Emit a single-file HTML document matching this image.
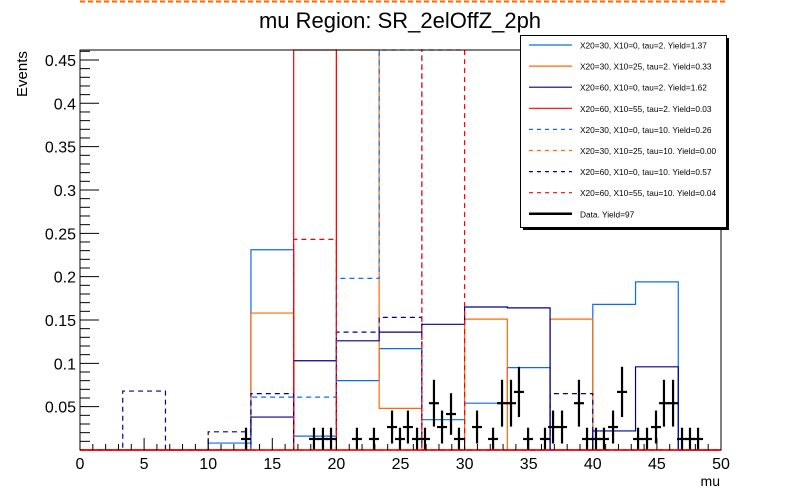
<!DOCTYPE html>
<html><head><meta charset="utf-8"><style>
html,body{margin:0;padding:0;background:#fff;}
svg{display:block;font-family:"Liberation Sans",sans-serif;}
</style></head><body>
<svg id="chart" width="800" height="500" viewBox="0 0 800 500">
<line x1="80" y1="1.5" x2="726" y2="1.5" stroke="#ff6600" stroke-width="2" stroke-dasharray="5,3"/>
<text x="400" y="28" font-size="22" text-anchor="middle">mu Region: SR_2elOffZ_2ph</text>
<text transform="translate(27,97) rotate(-90)" font-size="15">Events</text>
<text x="720" y="486" font-size="14" text-anchor="end">mu</text>
<g id="hists"></g>
<g id="datag"></g>
<g id="axes"></g>
<g id="legend"></g>
</svg>
<script>
const binEdgesN = 15;
const xMin = 0, xMax = 50, yMax = 0.4615;
const azureSolid  = [0,0,0,0.008,0.231,0.016,0.080,0.117,0.035,0.054,0.095,0,0.168,0.194,0];
const orangeSolid = [0,0,0,0,0.158,0,1.0,0.048,0,0.151,0,0.151,0,0,0];
const navySolid   = [0,0,0,0,0.038,0.103,0.126,0.136,0.145,0.165,0.164,0,0.022,0.096,0];
const redSolid    = [0,0,0,0,0,1.0,0,0,0,0,0,0,0,0,0];
const azureDash   = [0,0,0,0,0.061,0.061,0.198,1.0,0,0,0,0,0,0,0];
const orangeDash  = [0,0,0,0,0,0,0,0,0,0,0,0,0,0,0];
const navyDash    = [0,0.068,0,0.021,0.065,0,0.136,0.153,0,0,0,0.065,0,0,0];
const redDash     = [0,0,0,0,0,0.243,0,0,1.0,0,0,0,0,0,0];
const dataX = [12.95,18.25,18.95,19.58,21.6,22.93,24.34,24.96,25.58,26.29,26.91,27.61,28.24,28.94,29.56,30.97,32.22,32.92,33.62,34.24,34.95,36.27,36.9,37.6,38.92,39.55,40.25,40.87,41.58,42.28,43.53,44.23,44.93,45.55,46.26,46.96,47.58,48.21];
const dataY = [0.0127,0.0127,0.0127,0.0127,0.0127,0.0127,0.0265,0.0127,0.0265,0.0127,0.0127,0.054,0.0265,0.0415,0.0127,0.0265,0.0127,0.054,0.054,0.067,0.0127,0.0127,0.0265,0.0265,0.054,0.0127,0.0127,0.0127,0.0265,0.067,0.0127,0.0127,0.0265,0.054,0.054,0.0127,0.0127,0.0127];
const dataErr = [0.013,0.013,0.013,0.013,0.013,0.013,0.019,0.013,0.019,0.013,0.013,0.027,0.019,0.024,0.013,0.019,0.013,0.027,0.027,0.029,0.013,0.013,0.019,0.019,0.027,0.013,0.013,0.013,0.019,0.029,0.013,0.013,0.019,0.027,0.027,0.013,0.013,0.013];
const xTicks = [0,5,10,15,20,25,30,35,40,45,50];
const yTicks = [0.05,0.1,0.15,0.2,0.25,0.3,0.35,0.4,0.45];
const yTickLabels = ["0.05","0.1","0.15","0.2","0.25","0.3","0.35","0.4","0.45"];
const legendLabels = ["X20=30, X10=0, tau=2. Yield=1.37","X20=30, X10=25, tau=2. Yield=0.33","X20=60, X10=0, tau=2. Yield=1.62","X20=60, X10=55, tau=2. Yield=0.03","X20=30, X10=0, tau=10. Yield=0.26","X20=30, X10=25, tau=10. Yield=0.00","X20=60, X10=0, tau=10. Yield=0.57","X20=60, X10=55, tau=10. Yield=0.04","Data. Yield=97"];

const L=80,R=721,T=50,B=450;
const sx = v => L + (v-xMin)/(xMax-xMin)*(R-L);
const sy = v => Math.max(T, B - v/yMax*(B-T));
const NS="http://www.w3.org/2000/svg";
function mk(tag, attrs, parent){const e=document.createElementNS(NS,tag);for(const k in attrs)e.setAttribute(k,attrs[k]);parent.appendChild(e);return e;}

const series = [
 {vals:azureSolid,color:"#0a6cf5",dash:null,name:"hist-x20-30-x10-0-tau2"},
 {vals:orangeSolid,color:"#ff6a00",dash:null,name:"hist-x20-30-x10-25-tau2"},
 {vals:navySolid,color:"#00008c",dash:null,name:"hist-x20-60-x10-0-tau2"},
 {vals:redSolid,color:"#ff0000",dash:null,name:"hist-x20-60-x10-55-tau2"},
 {vals:azureDash,color:"#0a6cf5",dash:"5,4",name:"hist-x20-30-x10-0-tau10"},
 {vals:orangeDash,color:"#ff6a00",dash:"5,4",name:"hist-x20-30-x10-25-tau10"},
 {vals:navyDash,color:"#00008c",dash:"5,4",name:"hist-x20-60-x10-0-tau10"},
 {vals:redDash,color:"#ff0000",dash:"5,4",name:"hist-x20-60-x10-55-tau10"}
];
const hg=document.getElementById('hists');
const bw=(xMax-xMin)/binEdgesN;
series.forEach(s=>{
  let d="M"+sx(xMin)+","+B;
  s.vals.forEach((v,i)=>{const y=sy(v);d+=" L"+sx(xMin+i*bw)+","+y+" L"+sx(xMin+(i+1)*bw)+","+y;});
  d+=" L"+sx(xMax)+","+B;
  const p=mk('path',{d:d,fill:"none",stroke:s.color,"stroke-width":1.2},hg);
  if(s.dash)p.setAttribute('stroke-dasharray',s.dash);
  
  
});
const dg=document.getElementById('datag');
dataX.forEach((x,i)=>{
  const g=mk('g',{stroke:"#000","stroke-width":2.2},dg);
  
  
  const cx=sx(x), cy=sy(dataY[i]);
  mk('line',{x1:cx-5,y1:cy,x2:cx+5,y2:cy},g);
  mk('line',{x1:cx,y1:sy(dataY[i]+dataErr[i]),x2:cx,y2:Math.min(B,sy(dataY[i]-dataErr[i]))},g);
});
const ag=document.getElementById('axes');
mk('rect',{x:L,y:T,width:R-L,height:B-T,fill:"none",stroke:"#000","stroke-width":1},ag);
mk('line',{x1:L,y1:B,x2:R,y2:B,stroke:"#ff0000","stroke-width":1.5},ag);
for(let v=xMin;v<=xMax;v+=1){const x=sx(v);const major=(v%5===0);mk('line',{x1:x,y1:B,x2:x,y2:B-(major?12:6),stroke:"#000","stroke-width":1},ag);}
xTicks.forEach(v=>{const t=mk('text',{x:sx(v),y:B+19,"font-size":16,"text-anchor":"middle"},ag);t.textContent=v;
  
  });
for(let k=1;k<=46;k++){const v=k*0.01;const y=sy(v);const major=(k%5===0);mk('line',{x1:L,y1:y,x2:L+(major?19:10),y2:y,stroke:"#000","stroke-width":1},ag);}
yTicks.forEach((v,i)=>{const t=mk('text',{x:L-4,y:sy(v)+6,"font-size":16,"text-anchor":"end"},ag);t.textContent=yTickLabels[i];
  
  });
const lg=document.getElementById('legend');


mk('rect',{x:523,y:38,width:206,height:192,fill:"#000"},lg);
mk('rect',{x:520.5,y:35.5,width:206,height:192,fill:"#fff",stroke:"#000","stroke-width":1},lg);
legendLabels.forEach((lab,i)=>{
  const y=45+i*21.1;
  const e=mk('g',{},lg);
  
  
  const isData=i===8;
  const s=series[i];
  const ln=mk('line',{x1:529,y1:y,x2:572,y2:y,stroke:isData?"#000":s.color,"stroke-width":isData?2.5:1.2},e);
  if(!isData&&s.dash)ln.setAttribute('stroke-dasharray','4,4');
  const t=mk('text',{x:580,y:y+3.5,"font-size":8.3},e);t.textContent=lab;
});
</script>
</body></html>
